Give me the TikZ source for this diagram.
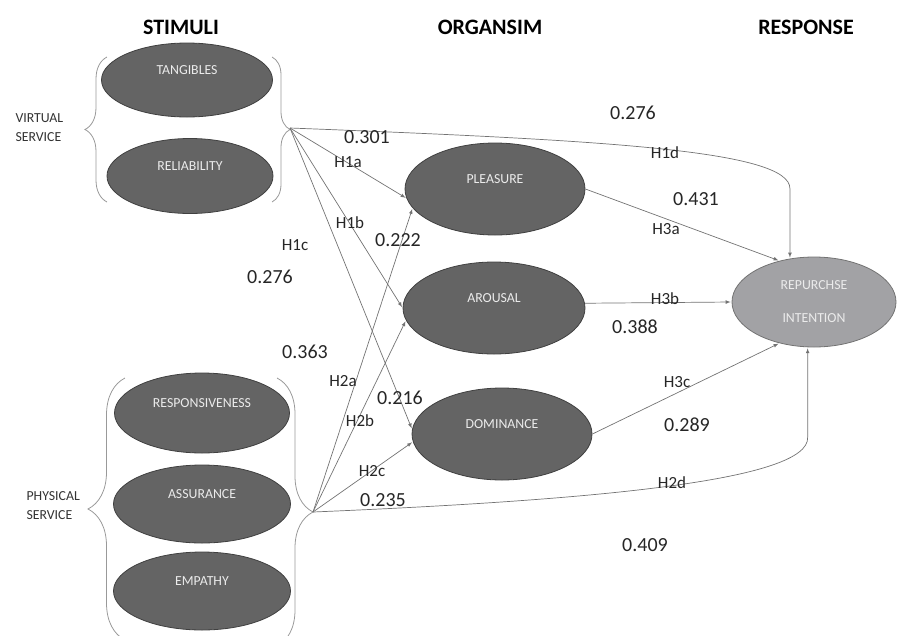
\documentclass[tikz,border=0pt]{standalone}
\usepackage{fontspec}
\setmainfont{Carlito}
\usetikzlibrary{shapes.geometric,decorations.pathreplacing}
\definecolor{ovalgray}{HTML}{646464}
\definecolor{repgray}{HTML}{A2A2A5}
\newcommand{\headsz}{\fontsize{22}{24}\selectfont\bfseries}
\newcommand{\numsz} {\fontsize{20}{22}\selectfont}
\newcommand{\tagsz} {\fontsize{17}{19}\selectfont}
\newcommand{\boxsz} {\fontsize{13.8}{19}\selectfont}

\begin{document}
\begin{tikzpicture}[x=1pt,y=-1pt,>=latex,
   oval/.style={ellipse,draw=black!75,fill=ovalgray,line width=0.8pt,inner sep=0pt,
      font=\boxsz,text=black!8,text depth=20pt},
   link/.style={->,draw=black!55,line width=0.7pt,shorten >=1pt},
   curly/.style={draw=black!40,line width=0.8pt,decorate,decoration={brace,amplitude=#1}},
   num/.style={font=\numsz,text=black!85},
   tag/.style={font=\tagsz,text=black!85}]
   \useasboundingbox (0,0) rectangle (902,635);
   % headings
   \draw (181,27) node[font=\headsz] (hstim) {STIMULI};
   \draw (490,27) node[font=\headsz] (horg)  {ORGANSIM};
   \draw (806,27) node[font=\headsz] (hresp) {RESPONSE};
   % stimuli
   \node[oval,minimum width=171,minimum height=74] (tang) at (187,80)  {TANGIBLES};
   \node[oval,minimum width=166,minimum height=75] (reli) at (190,176) {RELIABILITY};
   \node[oval,minimum width=175,minimum height=80] (resp) at (202,413) {RESPONSIVENESS};
   \node[oval,minimum width=177,minimum height=78] (assu) at (202,504) {ASSURANCE};
   \node[oval,minimum width=177,minimum height=78] (empa) at (202,591) {EMPATHY};
   \draw[curly=22pt] (107,202) -- (107,57);
   \draw[curly=18pt] (272,57) -- (272,202);
   \draw[curly=37pt] (125,640) -- (125,378);
   \draw[curly=36pt] (277,378) -- (277,646);
   \coordinate (virt) at (290,128);
   \coordinate (phys) at (313,512);
   \draw (12,128) node[anchor=west,align=left,font=\boxsz,text=black!80] (vserv) {VIRTUAL\\SERVICE};
   \draw (23,506) node[anchor=west,align=left,font=\boxsz,text=black!80] (pserv) {PHYSICAL\\SERVICE};
   % organism and response
   \node[oval,minimum width=180,minimum height=92] (pleas) at (495,189) {PLEASURE};
   \node[oval,minimum width=182,minimum height=92] (arou)  at (494,308) {AROUSAL};
   \node[oval,minimum width=180,minimum height=92] (domi)  at (502,434) {DOMINANCE};
   \node[oval,fill=repgray,draw=black!55,minimum width=164,minimum height=90,
      align=center,text depth=,font=\fontsize{13.8}{33}\selectfont] (rep) at (814,302) {REPURCHSE\\INTENTION};
   % paths
   \draw[link] (virt) -- (pleas.186);
   \draw[link] (virt) -- (arou.180);
   \draw[link] (virt) -- (domi.177);
   \draw[link] (virt) .. controls (600,140) and (790,150) .. ([yshift=70pt]rep.119) -- (rep.119);
   \draw[link] (phys) -- (pleas.193);
   \draw[link] (phys) -- (arou.188);
   \draw[link] (phys) -- (domi.185);
   \draw[link] (phys) .. controls (600,500) and (810,480) .. ([yshift=-90pt]rep.262) -- (rep.262);
   \draw[link] (pleas.east) -- (rep.130);
   \draw[link] (arou.3) -- (rep.west);
   \draw[link] (domi.east) -- (rep.230);
   % weights and hypotheses
   \draw (633,113) node[num] (w276a) {0.276};
   \draw (665,153) node[tag] (h1d) {H1d};
   \draw (367,137) node[num] (w301) {0.301};
   \draw (348,162) node[tag] (h1a) {H1a};
   \draw (350,223) node[tag] (h1b) {H1b};
   \draw (398,240) node[num] (w222) {0.222};
   \draw (295,245) node[tag] (h1c) {H1c};
   \draw (270,277) node[num] (w276b) {0.276};
   \draw (696,199) node[num] (w431) {0.431};
   \draw (666,229) node[tag] (h3a) {H3a};
   \draw (665,299) node[tag] (h3b) {H3b};
   \draw (635,327) node[num] (w388) {0.388};
   \draw (305,352) node[num] (w363) {0.363};
   \draw (343,381) node[tag] (h2a) {H2a};
   \draw (400,398) node[num] (w216) {0.216};
   \draw (360,421) node[tag] (h2b) {H2b};
   \draw (372,471) node[tag] (h2c) {H2c};
   \draw (383,500) node[num] (w235) {0.235};
   \draw (677,382) node[tag] (h3c) {H3c};
   \draw (687,425) node[num] (w289) {0.289};
   \draw (672,483) node[tag] (h2d) {H2d};
   \draw (645,545) node[num] (w409) {0.409};
\end{tikzpicture}
\end{document}
